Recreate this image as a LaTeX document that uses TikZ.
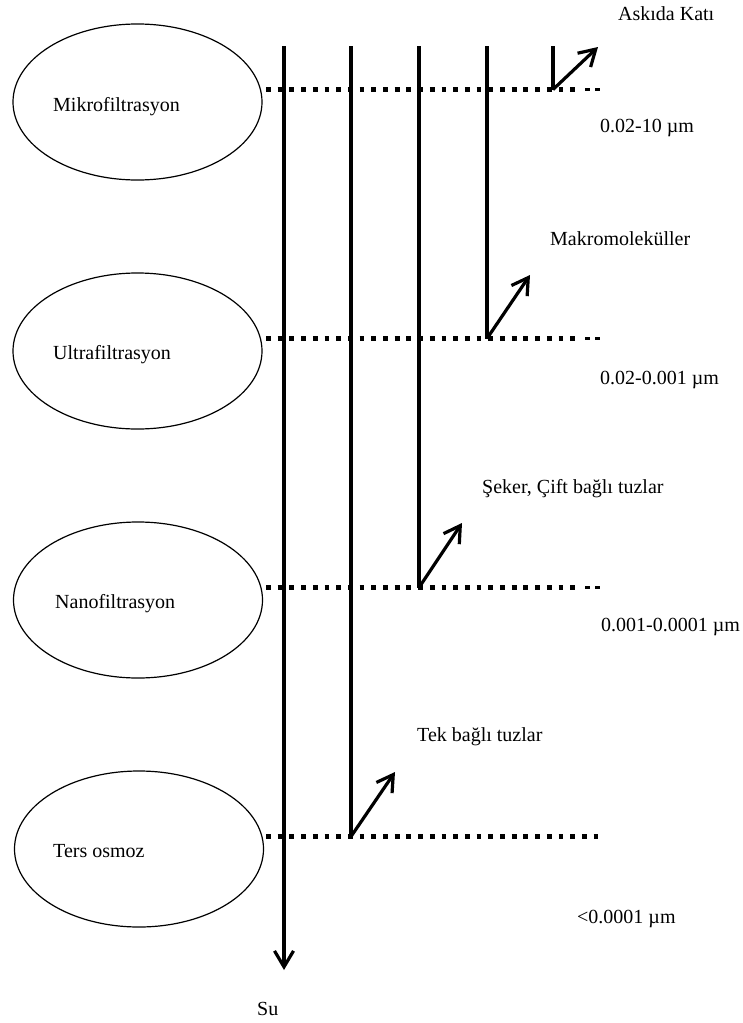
\documentclass[tikz,border=0pt]{standalone}
\usepackage{fontspec}
\setmainfont{Liberation Serif}
\usetikzlibrary{arrows.meta,shapes.geometric}
\begin{document}
\begin{tikzpicture}[x=1bp,y=-1bp,
  memb/.style={draw, line width=1.2bp, ellipse, minimum width=249bp, minimum height=156bp, inner sep=0pt},
  lbl/.style={anchor=base west, inner sep=0pt, font=\fontsize{20bp}{24bp}\selectfont},
  flow/.style={line width=3.2bp},
  dotline/.style={line width=4.6bp, dash pattern=on 4.8bp off 6.9bp},
  thindash/.style={line width=2.2bp, dash pattern=on 5bp off 5bp},
  tip/.style={line width=3.2bp, -{Straight Barb[length=16bp,width=19bp]}}]
\useasboundingbox (0,0) rectangle (743,1023);

% membranes
\node[memb] (mf) at (137.5,102) {};
\node[memb] (uf) at (137.5,351) {};
\node[memb] (nf) at (138,600) {};
\node[memb] (ro) at (139,849) {};
\node[lbl] (mft) at (53,111) {Mikrofiltrasyon};
\node[lbl] (uft) at (53,359) {Ultrafiltrasyon};
\node[lbl] (nft) at (55,608) {Nanofiltrasyon};
\node[lbl] (rot) at (53,857) {Ters osmoz};

% coordinates
\coordinate (d1s) at (266,89.5);  \coordinate (d1e) at (580,89.5);  \coordinate (d1t) at (600,89.5);
\coordinate (d2s) at (266,338.5); \coordinate (d2e) at (580,338.5); \coordinate (d2t) at (600,338.5);
\coordinate (d3s) at (266,587.5); \coordinate (d3e) at (580,587.5); \coordinate (d3t) at (600,587.5);
\coordinate (d4s) at (266,836.5); \coordinate (d4e) at (600,836.5);

\coordinate (t1) at (284,46); \coordinate (b1) at (284,970);
\coordinate (t2) at (351,46); \coordinate (j4) at (351,836.5);
\coordinate (t3) at (419,46); \coordinate (j3) at (419,587.5);
\coordinate (t4) at (487,46); \coordinate (j2) at (487,338.5);
\coordinate (t5) at (553,46); \coordinate (j1) at (553,89.5);
\coordinate (a1) at (598,47);
\coordinate (a2) at (530,275);
\coordinate (a3) at (462,523);
\coordinate (a4) at (395,772);

% dotted membrane lines
\draw[dotline] (d1s) -- (d1e);
\draw[thindash] (d1e) ++(5,0) -- (d1t);
\draw[dotline] (d2s) -- (d2e);
\draw[thindash] (d2e) ++(5,0) -- (d2t);
\draw[dotline] (d3s) -- (d3e);
\draw[thindash] (d3e) ++(5,0) -- (d3t);
\draw[dotline] (d4s) -- (d4e);

% flows
\draw[tip] (t1) -- (b1);
\draw[flow] (t2) -- (j4);
\draw[flow] (t3) -- (j3);
\draw[flow] (t4) -- (j2);
\draw[flow] (t5) -- (j1);
\draw[tip] (j1) -- (a1);
\draw[tip] (j2) -- (a2);
\draw[tip] (j3) -- (a3);
\draw[tip] (j4) -- (a4);

% labels
\node[lbl] (l1) at (618,20) {Askıda Katı};
\node[lbl] (s1) at (600,132) {0.02-10 µm};
\node[lbl] (l2) at (550,245) {Makromoleküller};
\node[lbl] (s2) at (600,384) {0.02-0.001 µm};
\node[lbl] (l3) at (482,493) {Şeker, Çift bağlı tuzlar};
\node[lbl] (s3) at (601,631) {0.001-0.0001 µm};
\node[lbl] (l4) at (417,741) {Tek bağlı tuzlar};
\node[lbl] (s4) at (577,923) {<0.0001 µm};
\node[lbl] (su) at (257,1015) {Su};
\end{tikzpicture}
\end{document}
